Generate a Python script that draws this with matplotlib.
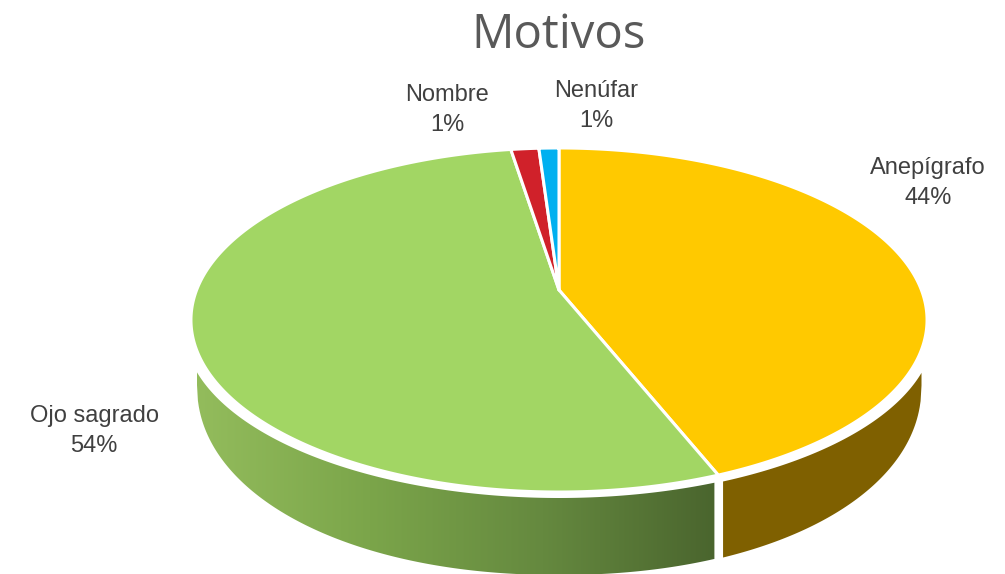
import numpy as np
import matplotlib
matplotlib.use("Agg")
import matplotlib.pyplot as plt
from matplotlib.colors import LinearSegmentedColormap
from matplotlib.patches import Polygon

title = "Motivos"
categories = ["Anepígrafo", "Ojo sagrado", "Nombre", "Nenúfar"]
values = [44.0, 53.51, 1.45, 1.04]
colors = ["#FFC900", "#A2D664", "#D0212A", "#00B0F0"]
label_pos = [(928, 183), (94, 431), (447, 110), (596, 106)]

fig = plt.figure(figsize=(10.05, 5.74), dpi=100)
ax = fig.add_axes([0, 0, 1, 1])
ax.set_xlim(0, 1005)
ax.set_ylim(574, 0)
ax.axis("off")

# perspective projection of a unit disc onto the picture
CX, CY, A, B, K = 559.0, 290.0, 362.4, 166.8, 0.1744


def project(theta):
    u, v = np.sin(theta), np.cos(theta)
    w = 1 + K * v
    return CX + A * u / w, CY - B * v / w


fractions = np.array(values) / np.sum(values)
edges = np.concatenate([[0], np.cumsum(fractions)]) * 2 * np.pi

# side wall
xs = np.linspace(197, 921, 800)
top_curve = 328 + 170 * np.sqrt(np.clip(1 - ((xs - 559) / 375) ** 2, 0, 1))
bot_curve = 385 + 190 * np.clip(1 - np.abs((xs - 559) / 362) ** 2.1, 0, 1) ** (1 / 2.1)
split_x = project(edges[1])[0]

right = xs >= split_x + 3.5
ax.fill_between(xs[right], top_curve[right], bot_curve[right], color="#7F6000", lw=0, zorder=1)

left = xs <= split_x - 3
wall = Polygon(np.vstack([np.c_[xs[left], top_curve[left]],
                          np.c_[xs[left][::-1], bot_curve[left][::-1]]]),
               closed=True, fc="none", ec="none", transform=ax.transData)
ax.add_patch(wall)
cmap = LinearSegmentedColormap.from_list("wall", ["#93BC5C", "#7BA54A", "#65893F", "#4A652E"])
im = ax.imshow(np.linspace(0, 1, 256)[None, :], extent=(197, split_x - 3, 574, 300),
               cmap=cmap, aspect="auto", zorder=1)
im.set_clip_path(wall)
ax.set_xlim(0, 1005)
ax.set_ylim(574, 0)

# top face
for i, color in enumerate(colors):
    th = np.linspace(edges[i], edges[i + 1], 300)
    x, y = project(th)
    ax.fill(np.r_[CX, x], np.r_[CY, y], fc=color, ec="white", lw=2.2, joinstyle="round", zorder=2)

# labels
for name, frac, pos in zip(categories, fractions, label_pos):
    ax.text(pos[0], pos[1], f"{name}\n{round(frac * 100):d}%", ha="center", va="center",
            fontsize=17, family="Liberation Sans", color="#404040", linespacing=1.46, zorder=3)

ax.text(559, 35, title, ha="center", va="center", fontsize=34, family="Open Sans", color="#595959")

fig.savefig("out.png", dpi=100, facecolor="white")
